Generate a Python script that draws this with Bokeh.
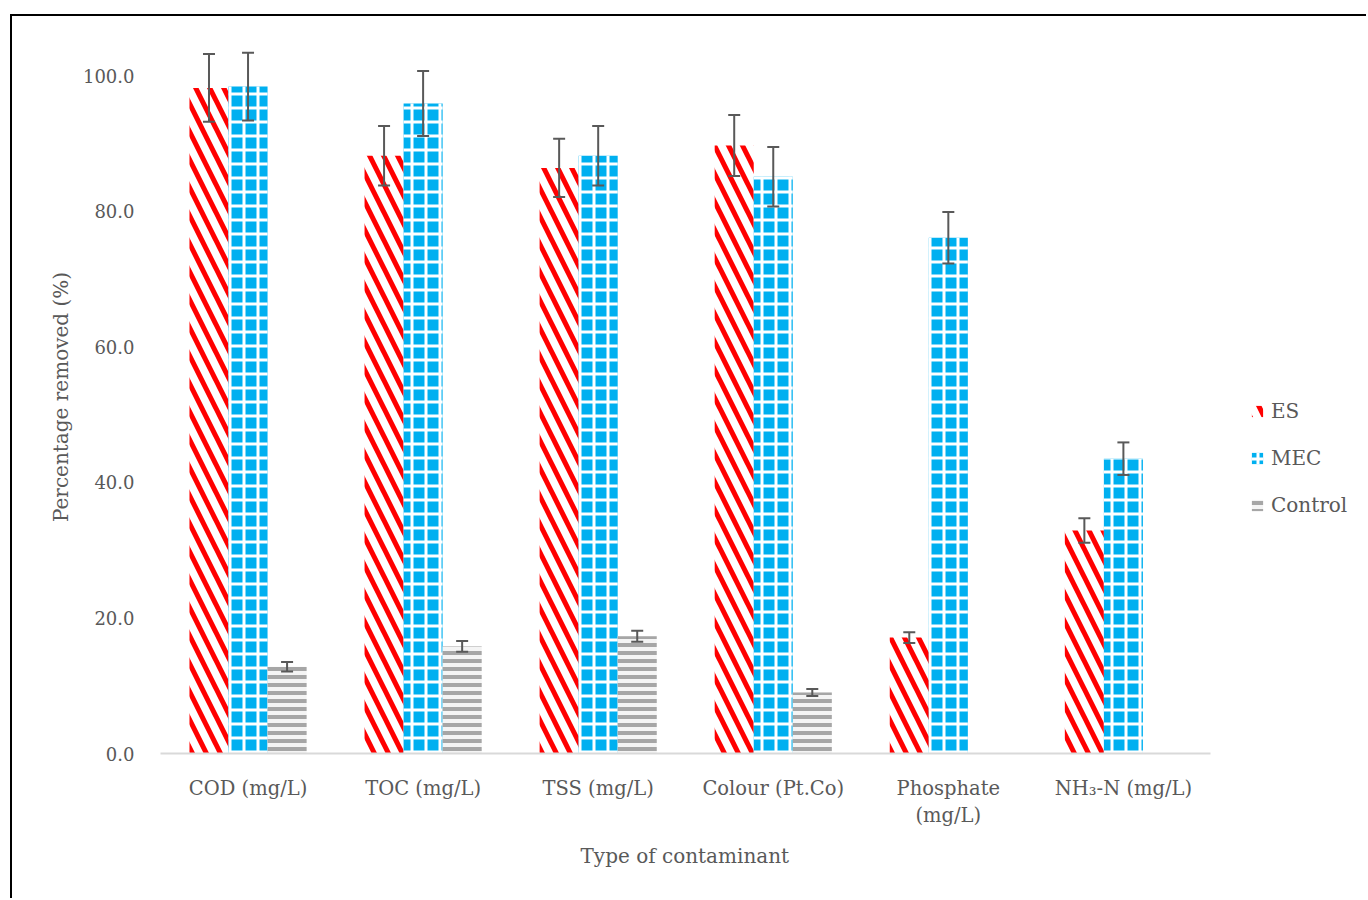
from bokeh.plotting import figure
from bokeh.models import (ColumnDataSource, Range1d, Whisker, Legend, Title,
                          LegendItem, FixedTicker, PrintfTickFormatter, TeeHead)
from bokeh.transform import dodge
from bokeh.embed import file_html
from bokeh.resources import INLINE

# Removal efficiency per contaminant (%), with standard deviations
categories = ["COD (mg/L)", "TOC (mg/L)", "TSS (mg/L)", "Colour (Pt.Co)",
              "Phosphate\n(mg/L)", "NH\u2083-N (mg/L)"]
es = [98.2, 88.2, 86.4, 89.7, 17.1, 32.9]
es_err = [5.0, 4.4, 4.3, 4.5, 0.8, 1.8]
mec = [98.4, 95.9, 88.2, 85.1, 76.1, 43.5]
mec_err = [5.0, 4.8, 4.4, 4.4, 3.8, 2.4]
control = [12.8, 15.8, 17.3, 9.0, None, None]
control_err = [0.7, 0.8, 0.8, 0.5, None, None]
y_ticks = [0, 20, 40, 60, 80, 100]

FONT = "DejaVu Serif"
GREY = "#595959"
BAR_W = 0.223

# category slots sit at 0.5, 1.5, ... on a numeric axis; the right-hand
# part of the frame beyond the last slot holds the legend
slot = [i + 0.5 for i in range(len(categories))]


def series_source(vals, errs):
    rows = [(x, v, e) for x, v, e in zip(slot, vals, errs) if v is not None]
    return ColumnDataSource(dict(
        x=[r[0] for r in rows],
        val=[r[1] for r in rows],
        upper=[r[1] + r[2] for r in rows],
        lower=[r[1] - r[2] for r in rows],
    ))


src_es = series_source(es, es_err)
src_mec = series_source(mec, mec_err)
src_ctl = series_source(control, control_err)

p = figure(x_range=Range1d(0, 6.9), y_range=Range1d(0, 105.2),
           width=1356, height=884, margin=(14, 0, 0, 10),
           styles={"border-left": "2px solid #000", "border-top": "2px solid #000"},
           output_backend="svg", toolbar_location=None,
           min_border_left=148, min_border_right=0,
           min_border_top=24, min_border_bottom=147)

r_es = p.vbar(x=dodge("x", -BAR_W), top="val", width=BAR_W,
              source=src_es, fill_color="white", line_color=None,
              hatch_pattern="\\", hatch_color="#ff0000", hatch_weight=5, hatch_scale=28)
r_mec = p.vbar(x="x", top="val", width=BAR_W,
               source=src_mec, fill_color="#00b0f0", line_color=None,
               hatch_pattern="+", hatch_color="white", hatch_weight=3, hatch_scale=14)
r_ctl = p.vbar(x=dodge("x", BAR_W), top="val", width=BAR_W,
               source=src_ctl, fill_color="#f4f4f4", line_color=None,
               hatch_pattern="-", hatch_color="#a6a6a6", hatch_weight=4, hatch_scale=8)

for off, src in ((-BAR_W, src_es), (0, src_mec), (BAR_W, src_ctl)):
    w = Whisker(source=src, base=dodge("x", off),
                upper="upper", lower="lower", line_color=GREY, line_width=2,
                level="overlay",
                upper_head=TeeHead(size=12, line_color=GREY, line_width=2),
                lower_head=TeeHead(size=12, line_color=GREY, line_width=2))
    p.add_layout(w)

p.xgrid.visible = False
p.ygrid.visible = False
p.outline_line_color = None

p.xaxis.ticker = FixedTicker(ticks=slot)
p.xaxis.major_label_overrides = {x: c for x, c in zip(slot, categories)}
p.xaxis.bounds = (0, len(categories))
p.xaxis.axis_line_color = "#d9d9d9"
p.xaxis.axis_line_width = 2
p.xaxis.major_tick_line_color = None
p.xaxis.minor_tick_line_color = None
p.xaxis.major_label_text_font = FONT
p.xaxis.major_label_text_font_size = "19.5px"
p.xaxis.major_label_text_color = GREY
p.xaxis.major_label_standoff = 17

# x-axis title, centred under the category slots rather than the whole frame
p.add_layout(Title(text="Type of contaminant", align="left", offset=420,
                   text_font=FONT, text_font_size="20px", text_font_style="normal",
                   text_color=GREY, standoff=22), "below")

p.yaxis.ticker = FixedTicker(ticks=y_ticks)
p.yaxis.formatter = PrintfTickFormatter(format="%.1f")
p.yaxis.axis_line_color = None
p.yaxis.major_tick_line_color = None
p.yaxis.minor_tick_line_color = None
p.yaxis.major_label_text_font = FONT
p.yaxis.major_label_text_font_size = "18px"
p.yaxis.major_label_text_color = GREY
p.yaxis.major_label_standoff = 20
p.yaxis.axis_label = "Percentage removed (%)"
p.yaxis.axis_label_text_font = FONT
p.yaxis.axis_label_text_font_size = "20px"
p.yaxis.axis_label_text_font_style = "normal"
p.yaxis.axis_label_text_color = GREY
p.yaxis.axis_label_standoff = 7

legend = Legend(items=[LegendItem(label="ES", renderers=[r_es]),
                       LegendItem(label="MEC", renderers=[r_mec]),
                       LegendItem(label="Control", renderers=[r_ctl])],
                location=(1090, 236), border_line_color=None,
                background_fill_alpha=0, padding=0, margin=0,
                glyph_width=14, glyph_height=14, label_standoff=7, spacing=23,
                label_text_font=FONT, label_text_font_size="20px",
                label_text_color=GREY)
p.add_layout(legend, "center")

open("out.html", "w").write(file_html(p, INLINE))
